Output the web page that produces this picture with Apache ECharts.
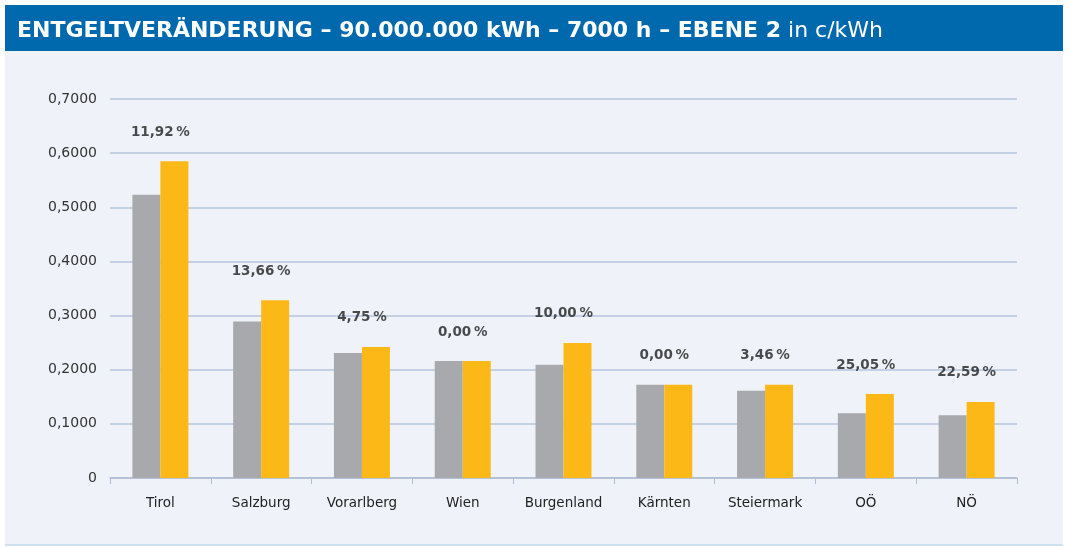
<!DOCTYPE html>
<html>
<head>
<meta charset="utf-8">
<script src="https://cdn.jsdelivr.net/npm/echarts@6/dist/echarts.min.js"></script>
<style>
  html, body { margin: 0; padding: 0; background: #ffffff; }
  #chart { width: 1071px; height: 547px; }
</style>
</head>
<body>
<div id="chart"></div>
<script>
const categories = ['Tirol', 'Salzburg', 'Vorarlberg', 'Wien', 'Burgenland', 'Kärnten', 'Steiermark', 'OÖ', 'NÖ'];
const valuesOld = [0.523, 0.289, 0.231, 0.216, 0.209, 0.172, 0.161, 0.1195, 0.116];
const valuesNew = [0.585, 0.3285, 0.242, 0.216, 0.2495, 0.172, 0.172, 0.155, 0.1405];
const changeLabels = ['11,92', '13,66', '4,75', '0,00', '10,00', '0,00', '3,46', '25,05', '22,59'];
const yTicks = [0, 0.1, 0.2, 0.3, 0.4, 0.5, 0.6, 0.7];

const labelTops = valuesNew.map((v, i) => Math.max(v, valuesOld[i]));

const chart = echarts.init(document.getElementById('chart'), null, { renderer: 'canvas' });

chart.setOption({
  animation: false,
  backgroundColor: '#ffffff',
  graphic: [
    { type: 'rect', left: 5, top: 50, shape: { width: 1058, height: 495 }, style: { fill: '#eff3f9' }, z: -10 },
    { type: 'rect', left: 5, top: 544, shape: { width: 1058, height: 2 }, style: { fill: '#cfe1f1' }, z: -10 },
    { type: 'rect', left: 5, top: 5, shape: { width: 1058, height: 46 }, style: { fill: '#0069ad' }, z: -10 }
  ],
  title: {
    text: '{b|ENTGELTVERÄNDERUNG – 90.000.000 kWh – 7000 h – EBENE 2}{n| in c/kWh}',
    left: 12,
    top: 15,
    textStyle: {
      rich: {
        b: { fontFamily: 'DejaVu Sans', fontWeight: 'bold', fontSize: 22, color: '#ffffff' },
        n: { fontFamily: 'DejaVu Sans', fontWeight: 'normal', fontSize: 22, color: '#ffffff' }
      }
    }
  },
  grid: { left: 110, right: 54, top: 99, bottom: 69, containLabel: false },
  xAxis: {
    type: 'category',
    data: categories,
    axisLine: { show: true, lineStyle: { color: '#aebcd6', width: 1.5 } },
    axisTick: { show: true, interval: 0, length: 6, lineStyle: { color: '#aebcd6', width: 1 } },
    axisLabel: { interval: 0, hideOverlap: false, margin: 18, fontFamily: 'DejaVu Sans', fontSize: 13.5, color: '#222222' },
    splitLine: { show: false }
  },
  yAxis: {
    type: 'value',
    min: yTicks[0],
    max: yTicks[yTicks.length - 1],
    interval: 0.1,
    axisLine: { show: false },
    axisTick: { show: false },
    axisLabel: {
      margin: 13,
      fontFamily: 'DejaVu Sans',
      fontSize: 14,
      color: '#333333',
      formatter: v => v === 0 ? '0' : v.toFixed(4).replace('.', ',')
    },
    splitLine: { show: true, lineStyle: { color: '#b6c4db', width: 1.5 } }
  },
  series: [
    {
      name: 'alt',
      type: 'bar',
      data: valuesOld,
      barWidth: 28,
      barGap: '0%',
      itemStyle: { color: '#a8a9ad' }
    },
    {
      name: 'neu',
      type: 'bar',
      data: valuesNew,
      barWidth: 28,
      itemStyle: { color: '#fcb817' }
    },
    {
      name: 'labels',
      type: 'scatter',
      data: labelTops,
      symbolSize: 0,
      silent: true,
      z: 10,
      label: {
        show: true,
        position: 'top',
        distance: 22,
        fontFamily: 'DejaVu Sans',
        fontWeight: 'bold',
        fontSize: 13.5,
        color: '#1e1e1e',
        formatter: p => changeLabels[p.dataIndex] + '\u2009%'
      }
    }
  ]
});
</script>
</body>
</html>
